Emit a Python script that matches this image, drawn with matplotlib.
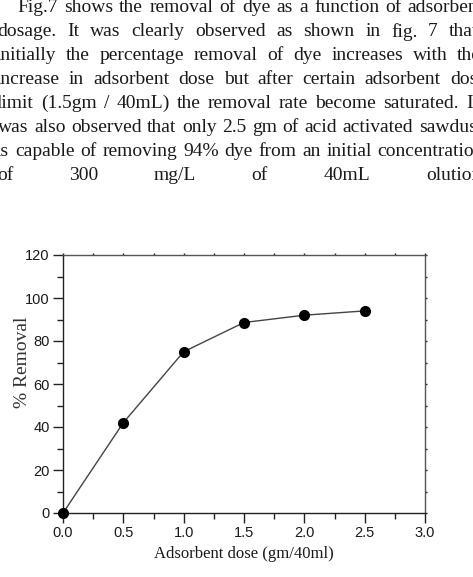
import matplotlib
matplotlib.use("Agg")
import matplotlib.pyplot as plt
from matplotlib.ticker import MultipleLocator

# paragraph above the figure (page crop, justified lines)
para_lines = [
    "Fig.7 shows the removal of dye as a function of adsorbent",
    "dosage. It was clearly observed as shown in fig. 7 that",
    "initially the percentage removal of dye increases with the",
    "increase in adsorbent dose but after certain adsorbent dose",
    "limit (1.5gm / 40mL) the removal rate become saturated. It",
    "was also observed that only 2.5 gm of acid activated sawdust",
    "is capable of removing 94% dye from an initial concentration",
    "of 300 mg/L of 40mL olution",
]
line_left = [17, -3, -4, -4, -3, -2, -4, -3]
line_right = [484, 478, 481, 486, 478, 482, 484, 481]
line_y = [8, 32, 55, 79, 103, 127, 151, 175]

# chart data
dose = [0.0, 0.5, 1.0, 1.5, 2.0, 2.5]
removal = [0, 42, 75, 88.6, 92, 94]
x_ticks = [0.0, 0.5, 1.0, 1.5, 2.0, 2.5, 3.0]
y_ticks = [0, 20, 40, 60, 80, 100, 120]

W, H = 473, 577
fig = plt.figure(figsize=(W / 100, H / 100), dpi=100)
fig.patch.set_facecolor("white")

serif = ["Liberation Serif", "DejaVu Serif"]
sans = ["Liberation Sans", "DejaVu Sans"]

# justified paragraph: measure each word then spread them over the line
renderer = fig.canvas.get_renderer()
for line, x0, x1, yc in zip(para_lines, line_left, line_right, line_y):
    words = line.split()
    texts = []
    widths = []
    for w in words:
        t = fig.text(0, 1 - yc / H, w, fontsize=14, family=serif,
                     va="center", ha="left", color="#1a1a1a")
        texts.append(t)
        widths.append(t.get_window_extent(renderer).width)
    gap = (x1 - x0 - sum(widths)) / max(len(words) - 1, 1)
    gap = max(gap, 3.5)
    x = x0
    for t, wd in zip(texts, widths):
        t.set_x(x / W)
        x += wd + gap

# the chart
ax = fig.add_axes([63 / W, 1 - 513 / H, 362 / W, 258 / H])
ax.plot(dose, removal, color="#444444", lw=1.0, marker="o",
        markersize=7, markerfacecolor="black", markeredgecolor="black",
        clip_on=False, zorder=3)

ax.set_xlim(0, 3.0)
ax.set_ylim(0, 120)
ax.set_xticks(x_ticks)
ax.set_yticks(y_ticks)
ax.set_xticklabels([f"{v:.1f}" for v in x_ticks])
ax.set_yticklabels([str(v) for v in y_ticks])
ax.xaxis.set_minor_locator(MultipleLocator(0.25))
ax.yaxis.set_minor_locator(MultipleLocator(10))

for s in ax.spines.values():
    s.set_linewidth(1.0)
    s.set_color("#222222")
ax.spines["top"].set_color("#555555")
ax.spines["right"].set_color("#555555")

ax.tick_params(axis="both", which="major", direction="out", length=7,
               width=1.0, color="#222222", pad=2.5, labelsize=10.5)
ax.tick_params(axis="both", which="minor", direction="out", length=4,
               width=1.0, color="#222222")
ax.tick_params(top=True, right=True, which="both")
for tk in ax.xaxis.get_major_ticks() + ax.xaxis.get_minor_ticks():
    tk.tick2line.set_markersize(1.5)
for tk in ax.yaxis.get_major_ticks() + ax.yaxis.get_minor_ticks():
    tk.tick2line.set_markersize(1.5)

for lab in ax.get_xticklabels() + ax.get_yticklabels():
    lab.set_family(sans)
    lab.set_color("#1a1a1a")

ax.set_xlabel("Adsorbent dose (gm/40ml)", family=serif, fontsize=12,
              color="#1a1a1a", labelpad=4)
ax.set_ylabel("% Removal", family=serif, fontsize=14, color="#333333")
ax.yaxis.set_label_coords(-0.088, 0.585)

fig.savefig("out.png", dpi=100)
